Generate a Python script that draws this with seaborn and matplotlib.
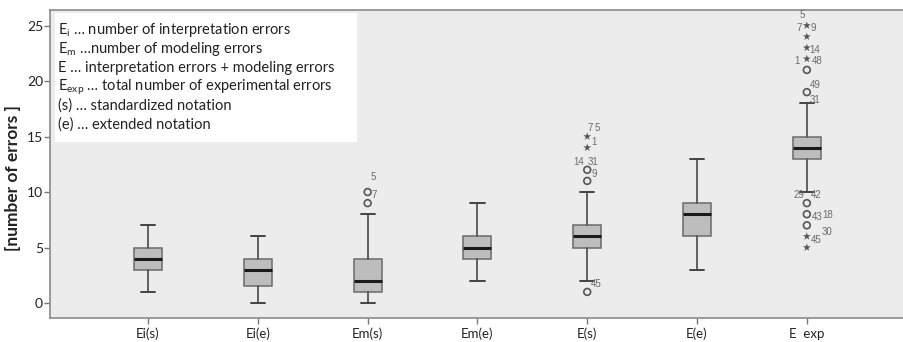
import matplotlib
matplotlib.use("Agg")
import matplotlib.pyplot as plt
from matplotlib.patches import Rectangle
import seaborn as sns
import pandas as pd

# Error counts per condition: five-number summaries of each box
categories = ["Ei(s)", "Ei(e)", "Em(s)", "Em(e)", "E(s)", "E(e)", "E  exp"]
whisker_low = [1, 0, 0, 2, 2, 3, 10]
q1 = [3, 1.5, 1, 4, 5, 6, 13]
median = [4, 3, 2, 5, 6, 8, 14]
q3 = [5, 4, 4, 6, 7, 9, 15]
whisker_high = [7, 6, 8, 9, 10, 13, 18]

# Outliers (circles) and extreme values (stars) per condition
outliers = [[], [], [9, 10], [], [1, 11, 12], [], [7, 8, 9, 19, 21]]
extremes = [[], [], [], [], [14, 15], [], [5, 6, 22, 23, 24, 25]]

# Case numbers printed beside the outlying points: (category, value, text, dx px, dy px)
case_labels = [
    (2, 10, "5", 6, 15), (2, 10, "7", 7, -3),
    (4, 15, "7", 3, 9), (4, 15, "5", 10, 9), (4, 15, "1", 7, -5),
    (4, 12, "14", -9, 8), (4, 12, "31", 6, 8), (4, 12, "9", 7, -4),
    (4, 1, "45", 9, 8),
    (6, 25, "5", -5, 11), (6, 25, "7", -8, -2), (6, 25, "9", 6, -2),
    (6, 23, "14", 8, -2), (6, 22, "1", -10, -2), (6, 22, "48", 10, -2),
    (6, 19, "49", 8, 7), (6, 18, "31", 8, 3),
    (6, 9, "29", -8, 8), (6, 9, "42", 9, 8),
    (6, 8, "43", 10, -3), (6, 8, "18", 21, -1),
    (6, 6, "30", 20, 4), (6, 6, "45", 9, -4),
]

legend_lines = [
    r"E$_\mathrm{i}$ … number of interpretation errors",
    r"E$_\mathrm{m}$ …number of modeling errors",
    r"E … interpretation errors + modeling errors",
    r"E$_\mathrm{exp}$ … total number of experimental errors",
    r"(s) … standardized notation",
    r"(e) … extended notation",
]

sns.set_style("white")
plt.rcParams["font.family"] = ["Lato", "DejaVu Sans"]
plt.rcParams["mathtext.fontset"] = "custom"
plt.rcParams["mathtext.rm"] = "Lato"
plt.rcParams["mathtext.it"] = "Lato:italic"

W, H = 904, 342
fig = plt.figure(figsize=(W / 100, H / 100), dpi=100)
ax = fig.add_axes([50 / W, 1 - 318 / H, 1 - 50 / W, (318 - 10) / H])
ax.set_facecolor("#ececec")

stats = []
for i, name in enumerate(categories):
    stats.append(dict(label=name, med=median[i], q1=q1[i], q3=q3[i],
                      whislo=whisker_low[i], whishi=whisker_high[i], fliers=[]))

edge = "#6a6a6a"
ax.bxp(stats, positions=range(len(categories)), widths=0.255, capwidths=0.13,
       patch_artist=True, showfliers=False,
       boxprops=dict(facecolor="#bdbdbd", edgecolor=edge, linewidth=1.1),
       whiskerprops=dict(color="#555555", linewidth=1.3),
       capprops=dict(color="#444444", linewidth=1.4),
       medianprops=dict(color="#1a1a1a", linewidth=2.2))

rows = []
for i in range(len(categories)):
    for v in outliers[i]:
        rows.append((i, v, "outlier"))
    for v in extremes[i]:
        rows.append((i, v, "extreme"))
pts = pd.DataFrame(rows, columns=["pos", "value", "kind"])

out = pts[pts.kind == "outlier"]
ext = pts[pts.kind == "extreme"]
sns.scatterplot(data=out, x="pos", y="value", ax=ax, marker="o", s=24,
                facecolor="none", edgecolor="#555555", linewidth=1.2, zorder=4)
sns.scatterplot(data=ext, x="pos", y="value", ax=ax, marker="*", s=36,
                color="#555555", edgecolor="none", zorder=4)

for pos, val, txt, dx, dy in case_labels:
    ax.annotate(txt, (pos, val), xytext=(dx, dy), textcoords="offset pixels",
                ha="center", va="center", fontsize=7, color="#6a6a6a",
                family=["Liberation Sans", "DejaVu Sans"])

ax.set_xlim(-0.893, 6.885)
ax.set_ylim(-1.35, 26.4)
ax.set_xticks(range(len(categories)))
ax.set_xticklabels(categories, fontsize=9.5, color="#222222")
ax.set_yticks([0, 5, 10, 15, 20, 25])
ax.set_yticklabels(["0", "5", "10", "15", "20", "25"], fontsize=10, color="#222222")
ax.set_xlabel("")
ax.set_ylabel("")
ax.tick_params(axis="both", direction="out", length=4, width=1, color="#777777",
               bottom=True, left=True)
ax.tick_params(axis="y", pad=1)
ax.tick_params(axis="x", pad=3)
for side in ["left", "bottom", "top"]:
    ax.spines[side].set_visible(True)
    ax.spines[side].set_color("#8a8a8a")
    ax.spines[side].set_linewidth(1.2)
ax.spines["right"].set_visible(False)

fig.text(13 / W, 1 - 178 / H, "[number of errors ]", rotation=90, ha="center",
         va="center", fontsize=12.5, fontweight="bold", color="#222222")

# Notation key in the upper-left corner of the plot
fig.add_artist(Rectangle((55 / W, 1 - 142 / H), (357 - 55) / W, (142 - 13) / H,
                         transform=fig.transFigure, facecolor="white",
                         edgecolor="none", zorder=5))
for k, line in enumerate(legend_lines):
    fig.text(58 / W, 1 - (30 + 19 * k) / H, line, ha="left", va="center",
             fontsize=10.5, color="#222222", zorder=6)

fig.savefig("out.png", dpi=100, facecolor="white")
